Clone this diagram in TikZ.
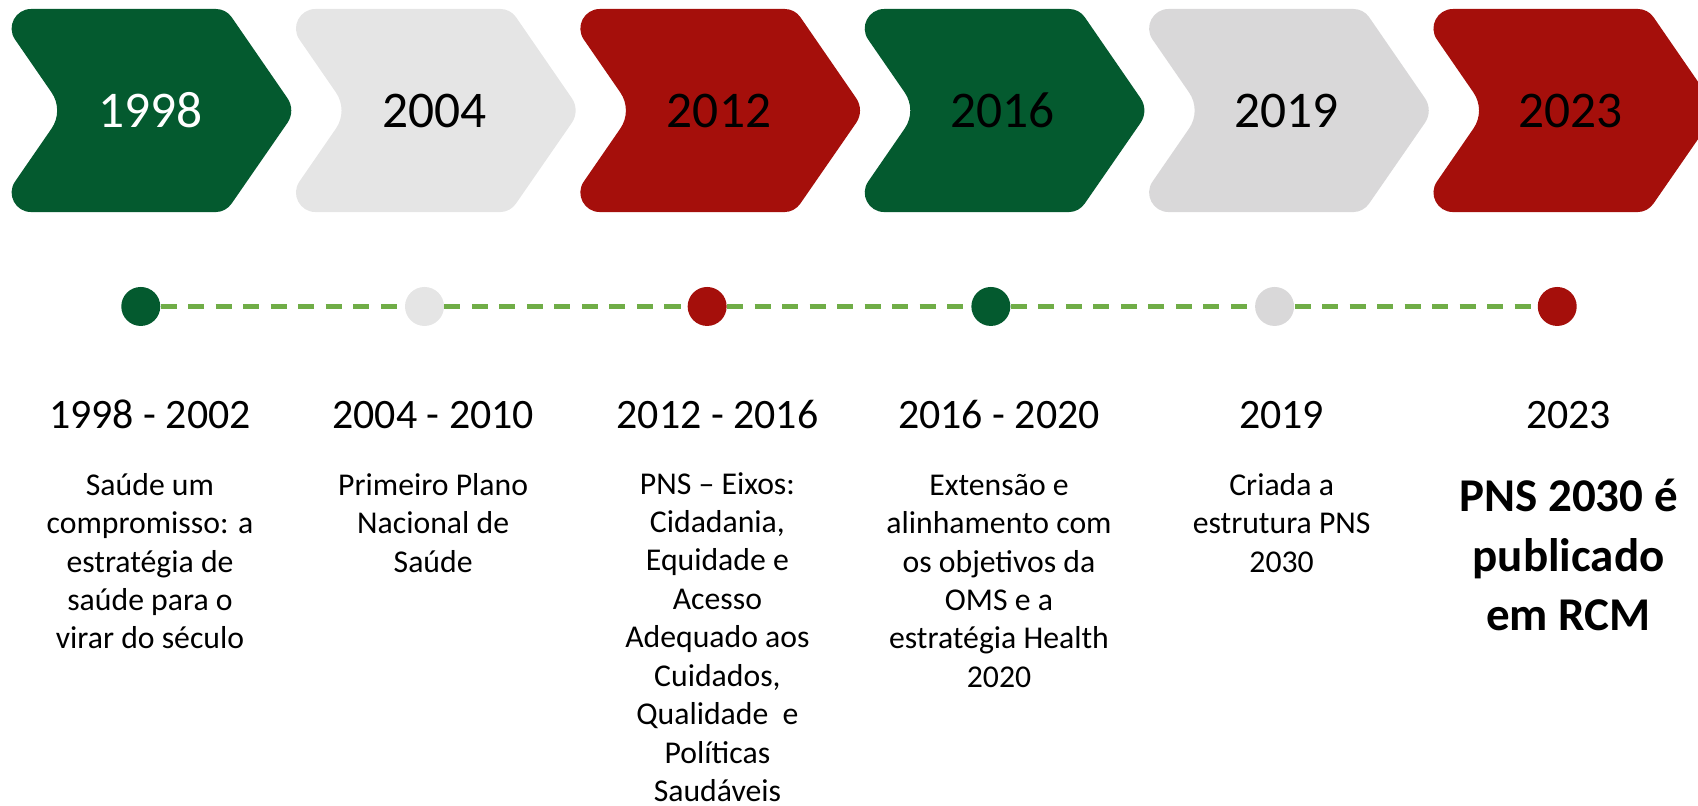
\documentclass[tikz,border=0pt]{standalone}
\usepackage{fontspec}
\setmainfont{Carlito}
\definecolor{cgreen}{HTML}{045A2F}
\definecolor{cred}{HTML}{A50F0B}
\definecolor{cgrayA}{HTML}{E5E5E5}
\definecolor{cgrayB}{HTML}{D9D8D9}
\definecolor{cdash}{HTML}{70AD47}
% chevron with individually rounded corners (left x, colour)
\newcommand\chevshape[2]{%
  \fill[#2, shift={(#1,0)}]
    (34.2,8.3) -- (205,8.3)
    .. controls (210.76,8.3) and (216.15,11.13) .. (219.42,15.88)
    -- (270.91,90.6)
    .. controls (275.66,97.49) and (275.66,106.61) .. (270.91,113.5)
    -- (219.42,187.92)
    .. controls (216.15,192.67) and (210.76,195.8) .. (205,195.8)
    -- (34.2,195.8)
    .. controls (19.73,195.8) and (11.19,179.53) .. (19.4,167.64)
    -- (53.08,118.77)
    .. controls (60.02,108.7) and (60.02,95.4) .. (53.08,85.33)
    -- (19.4,36.5)
    .. controls (11.19,24.57) and (19.73,8.3) .. (34.2,8.3)
    -- cycle;}
\begin{document}
\begin{tikzpicture}[x=0.5pt,y=-0.5pt,
  yearlbl/.style={anchor=base, inner sep=0pt, font=\fontsize{23.75}{28}\selectfont},
  datelbl/.style={anchor=base, inner sep=0pt, font=\fontsize{19.35}{23}\selectfont},
  desc/.style={anchor=north, inner sep=0pt, align=center, font=\fontsize{14.65}{17.75}\selectfont},
  descbold/.style={anchor=north, inner sep=0pt, align=center, font=\bfseries\fontsize{21.7}{27.5}\selectfont},
  dot/.style={circle, minimum size=18pt, inner sep=0pt, draw=none},
  dashline/.style={draw=cdash, line width=2.1pt, dash pattern=on 7.4pt off 5.3pt}
]
\useasboundingbox (0,0) rectangle (1568,744);
\clip (0,0) rectangle (1568,744);

% chevrons
\chevshape{-5.5}{cgreen}
\chevshape{257.1}{cgrayA}
\chevshape{519.7}{cred}
\chevshape{782.3}{cgreen}
\chevshape{1044.9}{cgrayB}
\chevshape{1307.5}{cred}

\node[yearlbl, text=white] (y1) at (139,118) {1998};
\node[yearlbl] (y2) at (401.5,118) {2004};
\node[yearlbl] (y3) at (664,118) {2012};
\node[yearlbl] (y4) at (926,118) {2016};
\node[yearlbl] (y5) at (1188,118) {2019};
\node[yearlbl] (y6) at (1450,118) {2023};

% timeline dots
\node[dot, fill=cgreen] (d1) at (130,283) {};
\node[dot, fill=cgrayA] (d2) at (392,283) {};
\node[dot, fill=cred] (d3) at (653,283) {};
\node[dot, fill=cgreen] (d4) at (915,283) {};
\node[dot, fill=cgrayB] (d5) at (1177,283) {};
\node[dot, fill=cred] (d6) at (1438,283) {};
\draw[dashline] (d1) -- (d2) -- (d3) -- (d4) -- (d5) -- (d6);

% date labels
\node[datelbl] (t1) at (138.5,395.5) {1998 - 2002};
\node[datelbl] (t2) at (400,395.5) {2004 - 2010};
\node[datelbl] (t3) at (662.5,395.5) {2012 - 2016};
\node[datelbl] (t4) at (922.5,395.5) {2016 - 2020};
\node[datelbl] (t5) at (1183.5,395.5) {2019};
\node[datelbl] (t6) at (1448.5,395.5) {2023};

% descriptions
\node[desc] (x1) at (138.5,432) {\strut Saúde um\\compromisso: a\\estratégia de\\saúde para o\\virar do século};
\node[desc] (x2) at (400,432) {\strut Primeiro Plano\\Nacional de\\Saúde};
\node[desc] (x3) at (662.5,431) {\strut PNS – Eixos:\\Cidadania,\\Equidade e\\Acesso\\Adequado aos\\Cuidados,\\Qualidade\ \ e\\Políticas\\Saudáveis};
\node[desc] (x4) at (922.5,432) {\strut Extensão e\\alinhamento com\\os objetivos da\\OMS e a\\estratégia Health\\2020};
\node[desc] (x5) at (1183.5,432) {\strut Criada a\\estrutura PNS\\2030};
\node[descbold] (x6) at (1448.5,433.5) {\strut PNS 2030 é\\publicado\\em RCM};
\end{tikzpicture}
\end{document}
